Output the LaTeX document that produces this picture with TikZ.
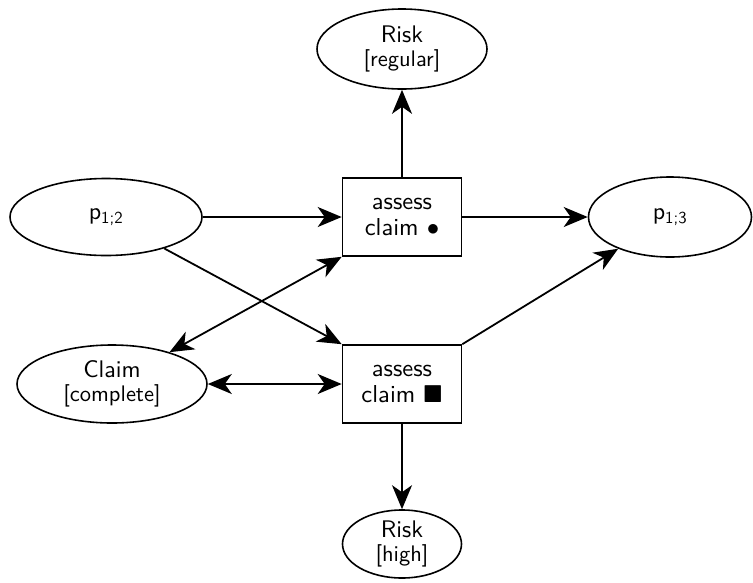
\documentclass[tikz,border=0pt]{standalone}
\usepackage{amsmath,amssymb}
\usepackage{fontspec}
\setsansfont{lmsans10-regular.otf}
\usetikzlibrary{shapes.geometric,arrows.meta}
\newcommand{\cond}[1]{{\fontsize{22.5}{23.5}\selectfont #1}}
\begin{document}
\begin{tikzpicture}[x=1pt,y=-1pt,
  place/.style={draw,ellipse,line width=1.6pt,inner sep=0pt,align=center,
    font=\sffamily\fontsize{24}{23.5}\selectfont},
  trans/.style={draw,rectangle,line width=1.6pt,inner sep=0pt,
    minimum width=119pt,minimum height=78pt,align=center,
    font=\sffamily\fontsize{24.5}{26}\selectfont},
  tip/.tip={Stealth[length=24pt,width=20pt,inset=7pt]},
  flow/.style={line width=1.8pt,-tip},
  twoway/.style={line width=1.8pt,tip-tip},
]
\useasboundingbox (0,0) rectangle (753,582);

% places
\node[place,minimum width=170pt,minimum height=80pt] (riskreg) at (402,49) {Risk\\\cond{[regular]}};
\node[place,minimum width=192pt,minimum height=77pt] (p12) at (106,217) {p$_{\text{1;2}}$};
\node[place,minimum width=163pt,minimum height=80pt] (p13) at (670,217) {p$_{\text{1;3}}$};
\node[place,minimum width=190pt,minimum height=78pt] (claim) at (112,384) {Claim\\\cond{[complete]}};
\node[place,minimum width=119pt,minimum height=68pt] (riskhigh) at (402,544) {Risk\\\cond{[high]}};

% transitions
\node[trans] (t1) at (402,217) {assess\\claim $\bullet$};
\node[trans] (t2) at (402,384) {assess\\claim $\blacksquare$};

% arcs
\draw[flow] (t1.north) -- (riskreg.south);
\draw[flow] (p12.east) -- (t1.west);
\draw[flow] (t1.east) -- (p13.west);
\draw[flow] (p12) -- (t2.north west);
\draw[twoway] (claim) -- (t1.south west);
\draw[twoway] (claim.east) -- (t2.west);
\draw[flow] (t2.north east) -- (p13);
\draw[flow] (t2.south) -- (riskhigh.north);
\end{tikzpicture}
\end{document}
